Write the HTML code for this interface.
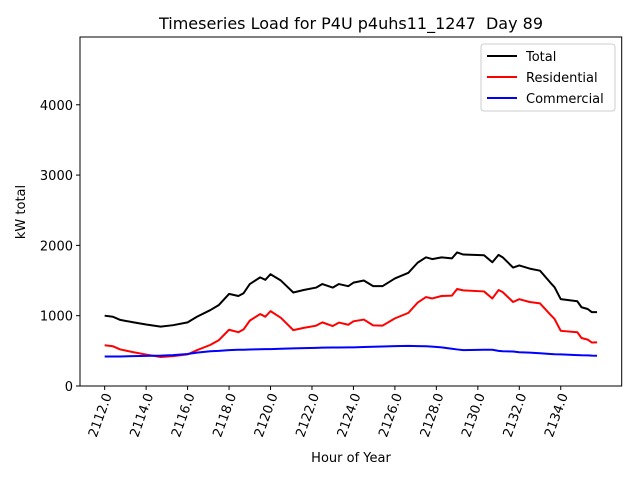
<!DOCTYPE html>
<html><head><meta charset="utf-8"><style>body{margin:0;background:#fff}svg{display:block;font-family:"DejaVu Sans","Liberation Sans",sans-serif}</style></head>
<body>
<svg id="chart" width="640" height="480" xmlns="http://www.w3.org/2000/svg">
<rect width="640" height="480" fill="#fff"/>
<text x="351" y="29" font-size="16" text-anchor="middle" xml:space="preserve" style="white-space:pre">Timeseries Load for P4U p4uhs11_1247  Day 89</text>
<g id="plot"></g>
<text x="351" y="462" font-size="13" text-anchor="middle">Hour of Year</text>
<text transform="translate(25,212) rotate(-90)" font-size="13" text-anchor="middle">kW total</text>
</svg>
<script>
const hours=[2112,2112.4,2112.75,2113.4,2114,2114.7,2115.3,2116,2116.45,2117.1,2117.5,2118,2118.45,2118.7,2119,2119.5,2119.75,2120,2120.5,2121.1,2121.6,2122.2,2122.5,2123,2123.3,2123.75,2124,2124.5,2124.95,2125.4,2126,2126.65,2127.1,2127.5,2127.8,2128.25,2128.75,2129,2129.3,2130.3,2130.7,2131,2131.2,2131.7,2132,2132.5,2133,2133.5,2133.7,2134,2134.8,2135,2135.3,2135.5,2135.75];
const totalKw=[1000,985,940,905,875,845,865,905,985,1080,1150,1310,1280,1320,1450,1545,1510,1590,1500,1330,1365,1400,1450,1400,1450,1420,1470,1500,1420,1420,1530,1610,1755,1830,1805,1830,1815,1900,1870,1860,1760,1865,1830,1685,1715,1670,1640,1470,1405,1235,1205,1120,1095,1050,1050];
const residentialKw=[580,565,520,480,447,413,425,450,510,585,650,800,765,805,930,1023,986,1065,970,795,827,858,905,853,902,871,920,945,862,858,962,1040,1187,1265,1245,1280,1285,1380,1360,1345,1245,1365,1335,1195,1235,1195,1175,1015,953,785,765,683,660,618,620];
const commercialKw=[420,420,420,425,428,432,440,455,475,495,500,510,515,515,520,522,524,525,530,535,538,542,545,547,548,549,550,555,558,562,568,570,568,565,560,550,530,520,510,515,515,500,495,490,480,475,465,455,452,450,440,437,435,432,430];
const xTicks=[2112,2114,2116,2118,2120,2122,2124,2126,2128,2130,2132,2134];
const yTicks=[0,1000,2000,3000,4000];
const seriesNames=["Total","Residential","Commercial"];
const NS="http://www.w3.org/2000/svg";
const L=80,R=621.7,T=37,B=386,X0=2110.81,X1=2136.94,Y0=0,Y1=4964;
const sx=v=>L+(v-X0)/(X1-X0)*(R-L);
const sy=v=>B-(v-Y0)/(Y1-Y0)*(B-T);
const g=document.getElementById('plot');
function mk(t,a){const e=document.createElementNS(NS,t);for(const k in a)e.setAttribute(k,a[k]);g.appendChild(e);return e;}
const frame=mk('rect',{x:L,y:T,width:R-L,height:B-T,fill:'none',stroke:'#000','stroke-width':1});


xTicks.forEach(v=>{
 const x=sx(v);
 const t=mk('line',{x1:x,x2:x,y1:B,y2:B+4,stroke:'#000'});
 
 
 const l=mk('text',{transform:`translate(${x+4},${B+8}) rotate(-70)`,'font-size':13,'text-anchor':'end','dominant-baseline':'middle'});
 l.textContent=v.toFixed(1);
 
 
});
yTicks.forEach(v=>{
 const y=sy(v);
 const t=mk('line',{x1:L-4,x2:L,y1:y,y2:y,stroke:'#000'});
 
 
 const l=mk('text',{x:L-7,y:y+5,'font-size':13,'text-anchor':'end'});
 l.textContent=v;
 
 
});
const series=[[totalKw,'#000','total-line'],[residentialKw,'#f00','residential-line'],[commercialKw,'#00f','commercial-line']];
series.forEach(([d,c,n])=>{
 const p=mk('polyline',{points:d.map((v,i)=>sx(hours[i])+','+sy(v)).join(' '),fill:'none',stroke:c,'stroke-width':2,'stroke-linejoin':'round'});
 
 
});
const lg=mk('rect',{x:481,y:44,width:134,height:67,rx:3,fill:'#fff',stroke:'#ccc'});


series.forEach(([d,c,n],i)=>{
 const y=56+i*21;
 const ln=mk('line',{x1:487,x2:517,y1:y,y2:y,stroke:c,'stroke-width':2});
 
 
 const tx=mk('text',{x:526,y:y+5,'font-size':13});
 tx.textContent=seriesNames[i];
 
 
});
</script>
</body></html>
